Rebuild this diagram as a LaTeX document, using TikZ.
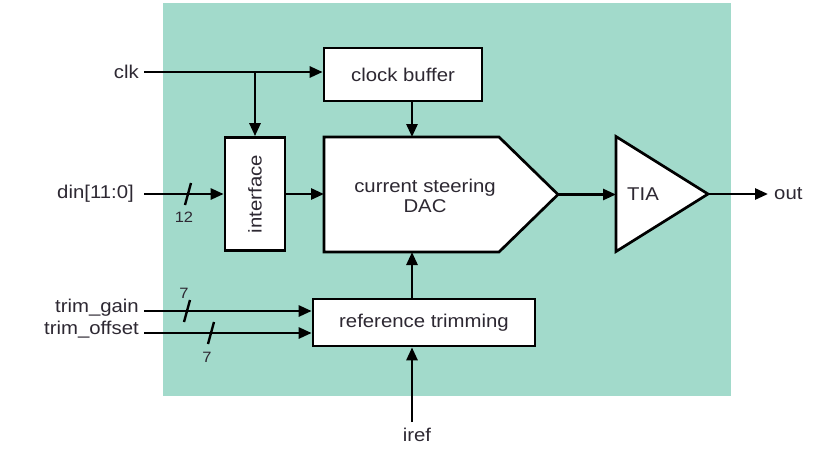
\documentclass[tikz,border=0pt]{standalone}
\usepackage{fontspec}
\setmainfont{Liberation Sans}[FakeStretch=1.1]
\usetikzlibrary{arrows.meta,calc}
\definecolor{bg}{RGB}{162,218,203}
\definecolor{txt}{RGB}{45,40,50}
\begin{document}
\begin{tikzpicture}[x=1pt,y=-1pt,
  every node/.style={text=txt, font=\fontsize{18.5}{20}\selectfont},
  wire/.style={line width=2.7pt, draw=black, -{Triangle[length=13pt,width=11pt]}},
  block/.style={draw=black, line width=2.7pt, fill=white, inner sep=0pt},
  ghost/.style={inner sep=0pt, outer sep=0pt},
  busmark/.style={line width=2.4pt},
  small/.style={font=\fontsize{15}{17}\selectfont}]
\useasboundingbox (0,0) rectangle (825,459);
\fill[bg] (163,3) rectangle (731,396);

% blocks
\node[block, minimum width=158, minimum height=53] (cb) at (403,74.5) {clock buffer};
\node[block, minimum width=60, minimum height=113] (intf) at (255,194) {\rotatebox{90}{interface}};
\node[ghost, minimum width=234, minimum height=115] (dac) at (441,194.5) {};
\draw[block] (dac.north west) -- ($(dac.north east)+(-59,0)$) -- (dac.east)
  -- ($(dac.south east)+(-59,0)$) -- (dac.south west) -- cycle;
\node[align=center] (dactext) at (425,196) {current steering\\DAC};
\node[ghost, minimum width=92, minimum height=115] (tia) at (662,194) {};
\draw[block] (tia.north west) -- (tia.east) -- (tia.south west) -- cycle;
\node (tiatext) at (643,194) {TIA};
\node[block, minimum width=222, minimum height=47] (ref) at (424,322.5) {reference trimming};

% inputs
\node[anchor=east, inner sep=0pt] (clk) at (139,72) {clk};
\coordinate (clkin) at (144,72);
\coordinate (clkbr) at (255,72);
\draw[wire] (clkin) -- (clkin -| cb.west);
\draw[wire] (clkbr) -- (intf.north);

\node[anchor=east, inner sep=0pt] (din) at (134,194) {din[11:0]};
\coordinate (dinin) at (144,194);
\draw[wire] (dinin) -- (dinin -| intf.west);
\draw[busmark] (185,205) -- (191,183);
\node[small] (n12) at (184,217) {12};

\node[anchor=east, inner sep=0pt] (tg) at (139,308) {trim\_gain};
\coordinate (tgin) at (144,311);
\draw[wire] (tgin) -- (tgin -| ref.west);
\draw[busmark] (184,322) -- (190,300);
\node[small] (n7a) at (184,293) {7};

\node[anchor=east, inner sep=0pt] (to) at (139,330) {trim\_offset};
\coordinate (toin) at (144,333);
\draw[wire] (toin) -- (toin -| ref.west);
\draw[busmark] (208,344) -- (214,322);
\node[small] (n7b) at (207,357) {7};

% internal connections
\draw[wire] (intf.east) -- (intf.east -| dac.west);
\coordinate (cbout) at ($(cb.south)+(9,0)$);
\draw[wire] (cbout) -- (cbout |- dac.north);
\coordinate (refout) at ($(ref.north)+(-12,0)$);
\draw[wire] (refout) -- (refout |- dac.south);
\draw[wire] (dac.east) -- (dac.east -| tia.west);

% iref
\coordinate (irefend) at (412,422);
\node (iref) at (417,435) {iref};
\draw[wire] (irefend) -- (irefend |- ref.south);

% out
\coordinate (outend) at (768,194);
\draw[wire] (tia.east) -- (outend);
\node[anchor=west, inner sep=0pt] (out) at (774,194) {out};
\end{tikzpicture}
\end{document}
